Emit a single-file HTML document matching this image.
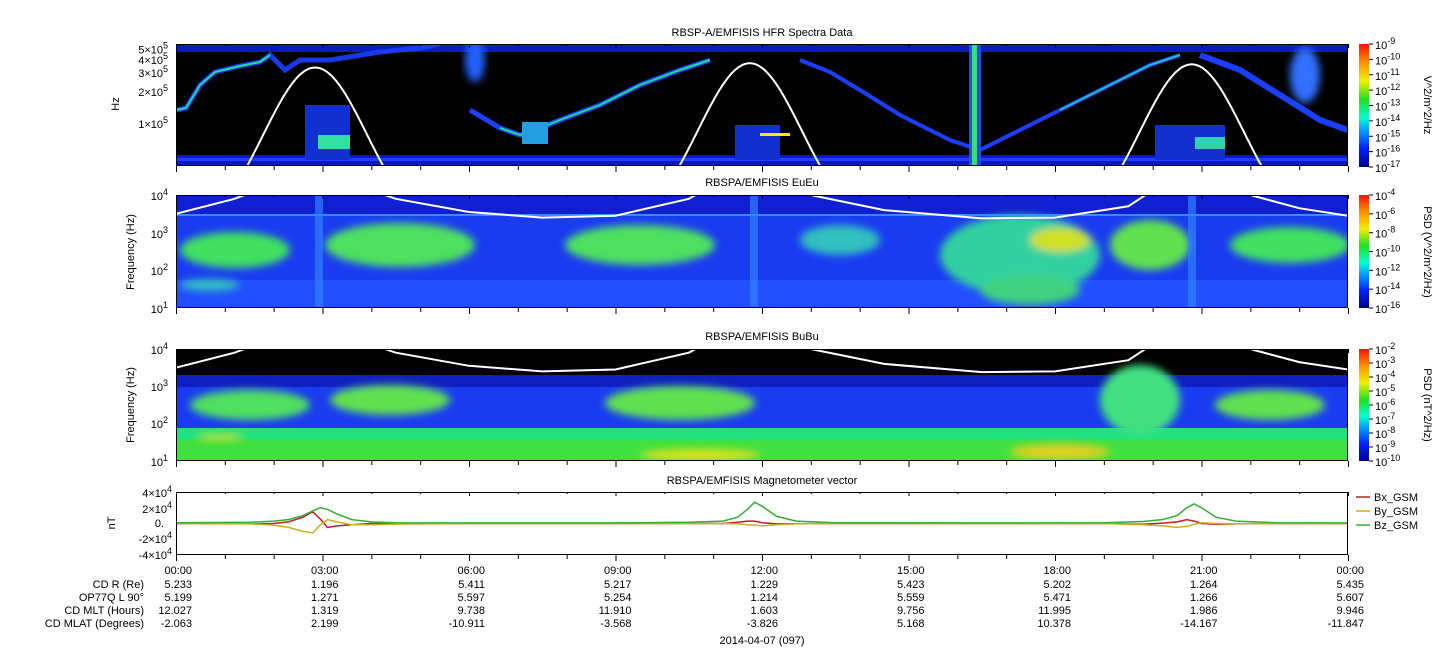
<!DOCTYPE html>
<html><head><meta charset="utf-8"><style>
body{margin:0;background:#fff;}
svg{display:block;font-family:"Liberation Sans",sans-serif;}
text{fill:#000;font-size:11px;}
</style></head><body>
<svg id="chart" width="1447" height="658" viewBox="0 0 1447 658" xmlns="http://www.w3.org/2000/svg">
<defs>
<filter id="b4" x="-20%" y="-20%" width="140%" height="140%"><feGaussianBlur stdDeviation="4"/></filter>
<linearGradient id="rain" x1="0" y1="1" x2="0" y2="0">
<stop offset="0" stop-color="#00008c"/><stop offset="0.15" stop-color="#0020ff"/><stop offset="0.3" stop-color="#00a0ff"/><stop offset="0.4" stop-color="#00ffd0"/><stop offset="0.55" stop-color="#20e020"/><stop offset="0.7" stop-color="#f0f000"/><stop offset="0.85" stop-color="#ff9000"/><stop offset="1" stop-color="#ff1000"/></linearGradient>
<clipPath id="c1"><rect x="176" y="44" width="1172" height="122"/></clipPath>
<clipPath id="c2"><rect x="176" y="195" width="1172" height="113"/></clipPath>
<clipPath id="c3"><rect x="176" y="349" width="1172" height="112"/></clipPath>
<clipPath id="c4"><rect x="176" y="492" width="1172" height="63"/></clipPath>
</defs>

<g clip-path="url(#c1)">
<rect x="176" y="44" width="1172" height="122" fill="#000"/>
<rect x="176" y="44" width="1172" height="8" fill="#0a1cc0"/>
<rect x="176" y="155" width="1172" height="11" fill="#0a1cb0"/>
<rect x="176" y="158" width="1172" height="3" fill="#2040ff"/>
<polyline points="176,110 186,108 200,85 215,72 240,66 260,62 270,55 285,70 300,60 330,60 380,52 420,48 440,44" fill="none" stroke="#1a40ff" stroke-width="5" opacity="0.9"/>
<polyline points="176,110 186,108 200,85 215,72 240,66 260,62 270,55" fill="none" stroke="#20e0a0" stroke-width="2"/>
<polyline points="470,110 500,128 520,135 540,128 560,120 600,105 640,85 680,70 710,60" fill="none" stroke="#1a40ff" stroke-width="5"/>
<polyline points="500,128 520,135 540,128 560,120 600,105 640,85 680,70 710,60" fill="none" stroke="#20e080" stroke-width="2"/>
<polyline points="800,60 830,72 860,90 900,115 950,140 980,150 1020,130 1060,110 1100,90 1150,65 1180,55" fill="none" stroke="#1a40ff" stroke-width="4"/>
<polyline points="1060,110 1100,90 1150,65 1180,55" fill="none" stroke="#20c0c0" stroke-width="2"/>
<polyline points="1200,55 1240,70 1280,95 1320,120 1348,130" fill="none" stroke="#1a40ff" stroke-width="6"/>
<ellipse cx="475" cy="60" rx="10" ry="22" fill="#2060ff" filter="url(#b4)"/>
<ellipse cx="1305" cy="75" rx="15" ry="28" fill="#3070ff" filter="url(#b4)"/>
<rect x="305" y="105" width="45" height="55" fill="#1030d0"/>
<rect x="318" y="135" width="32" height="14" fill="#30e0a0"/>
<rect x="735" y="125" width="45" height="35" fill="#1030d0"/>
<rect x="760" y="133" width="30" height="3" fill="#f0f000"/>
<rect x="1155" y="125" width="70" height="35" fill="#1030d0"/>
<rect x="1195" y="137" width="30" height="12" fill="#30d0b0"/>
<rect x="969" y="44" width="12" height="122" fill="#2050e0"/>
<rect x="972" y="44" width="5" height="122" fill="#30e080"/>
<rect x="522" y="122" width="26" height="22" fill="#20a0e0"/>
</g>
<g id="wh1" clip-path="url(#c1)"></g>

<g clip-path="url(#c2)">
<rect x="176" y="195" width="1172" height="113" fill="#1a3cf0"/>
<rect x="176" y="195" width="1172" height="20" fill="#1020d0"/>
<rect x="176" y="280" width="1172" height="28" fill="#2050ff"/>
<g filter="url(#b4)">
<ellipse cx="235" cy="250" rx="55" ry="18" fill="#40e060"/>
<ellipse cx="400" cy="245" rx="75" ry="22" fill="#50e060"/>
<ellipse cx="640" cy="245" rx="75" ry="20" fill="#50e060"/>
<ellipse cx="840" cy="240" rx="40" ry="15" fill="#30c0c0"/>
<ellipse cx="1020" cy="255" rx="80" ry="40" fill="#30d0a0"/>
<ellipse cx="1060" cy="240" rx="30" ry="12" fill="#d0e020"/>
<ellipse cx="1150" cy="245" rx="40" ry="25" fill="#60e050"/>
<ellipse cx="1290" cy="245" rx="60" ry="18" fill="#40e060"/>
<ellipse cx="210" cy="285" rx="30" ry="6" fill="#30c0c0"/>
<ellipse cx="1030" cy="290" rx="50" ry="15" fill="#40d080"/>
</g>
<rect x="176" y="214" width="1172" height="2" fill="#3090ff"/>
<rect x="315" y="195" width="8" height="113" fill="#3080ff" opacity="0.7"/>
<rect x="750" y="195" width="8" height="113" fill="#3080ff" opacity="0.7"/>
<rect x="1188" y="195" width="8" height="113" fill="#3080ff" opacity="0.7"/>
</g>
<g id="wh2" clip-path="url(#c2)"></g>

<g clip-path="url(#c3)">
<rect x="176" y="349" width="1172" height="112" fill="#1a3cf0"/>
<rect x="176" y="349" width="1172" height="30" fill="#000"/>
<rect x="176" y="375" width="1172" height="12" fill="#1020c0"/>
<rect x="176" y="428" width="1172" height="33" fill="#20e080"/>
<rect x="176" y="440" width="1172" height="21" fill="#40e040"/>
<g filter="url(#b4)">
<ellipse cx="250" cy="405" rx="60" ry="15" fill="#50e060"/>
<ellipse cx="390" cy="400" rx="60" ry="15" fill="#60e050"/>
<ellipse cx="680" cy="403" rx="75" ry="17" fill="#60e050"/>
<ellipse cx="1140" cy="400" rx="40" ry="35" fill="#40e080"/>
<ellipse cx="1270" cy="405" rx="55" ry="15" fill="#60e050"/>
<ellipse cx="700" cy="455" rx="60" ry="6" fill="#e0e020"/>
<ellipse cx="1060" cy="452" rx="50" ry="8" fill="#e0d020"/>
<ellipse cx="220" cy="437" rx="25" ry="3" fill="#e0e020"/>
</g>
</g>
<g id="wh3" clip-path="url(#c3)"></g>

<rect x="176" y="492" width="1172" height="63" fill="#fff"/>
<g id="mag" clip-path="url(#c4)"></g>

<g id="frames" fill="none" stroke="#000" stroke-width="1"></g>
<g id="ticks" stroke="#000" stroke-width="1"></g>

<text x="762" y="36" text-anchor="middle">RBSP-A/EMFISIS  HFR Spectra Data</text>
<text x="762" y="186" text-anchor="middle">RBSPA/EMFISIS  EuEu</text>
<text x="762" y="340" text-anchor="middle">RBSPA/EMFISIS  BuBu</text>
<text x="762" y="484" text-anchor="middle">RBSPA/EMFISIS  Magnetometer vector</text>

<text transform="translate(119,104) rotate(-90)" text-anchor="middle">Hz</text>
<text transform="translate(134,252) rotate(-90)" text-anchor="middle">Frequency (Hz)</text>
<text transform="translate(134,405) rotate(-90)" text-anchor="middle">Frequency (Hz)</text>
<text transform="translate(115,523) rotate(-90)" text-anchor="middle">nT</text>
<g id="ylabels"></g>

<rect x="1359" y="44" width="10" height="123" fill="url(#rain)"/>
<rect x="1359" y="195" width="10" height="113" fill="url(#rain)"/>
<rect x="1359" y="349" width="10" height="112" fill="url(#rain)"/>
<g id="cbl"></g>
<text transform="translate(1424,105) rotate(90)" text-anchor="middle">V^2/m^2/Hz</text>
<text transform="translate(1424,252) rotate(90)" text-anchor="middle">PSD (V^2/m^2/Hz)</text>
<text transform="translate(1424,405) rotate(90)" text-anchor="middle">PSD (nT^2/Hz)</text>

<g>
<line x1="1356" y1="497" x2="1370" y2="497" stroke="#c02020" stroke-width="1.5"/><text x="1374" y="501">Bx_GSM</text>
<line x1="1356" y1="511" x2="1370" y2="511" stroke="#c8b020" stroke-width="1.5"/><text x="1374" y="515">By_GSM</text>
<line x1="1356" y1="525" x2="1370" y2="525" stroke="#30b030" stroke-width="1.5"/><text x="1374" y="529">Bz_GSM</text>
</g>

<g id="ephem"></g>
<text x="762" y="644" text-anchor="middle">2014-04-07 (097)</text>

<script>
const timeLabels=["00:00","03:00","06:00","09:00","12:00","15:00","18:00","21:00","00:00"];
const rowNames=["CD R (Re)","OP77Q L 90°","CD MLT (Hours)","CD MLAT (Degrees)"];
const cdR=["5.233","1.196","5.411","5.217","1.229","5.423","5.202","1.264","5.435"];
const lShell=["5.199","1.271","5.597","5.254","1.214","5.559","5.471","1.266","5.607"];
const mlt=["12.027","1.319","9.738","11.910","1.603","9.756","11.995","1.986","9.946"];
const mlat=["-2.063","2.199","-10.911","-3.568","-3.826","5.168","10.378","-14.167","-11.847"];
const tHours=[0,1.5,2.0,2.3,2.6,2.8,2.95,3.1,3.3,3.6,4.0,4.5,6,9,10.5,11.2,11.5,11.7,11.85,12.0,12.3,12.7,13.5,16,19,19.8,20.2,20.5,20.7,20.85,21.0,21.3,21.7,22.5,24];
const bx=[0,-500,0,2000,8000,15000,6000,-5000,-3000,-1500,0,0,0,0,0,0,1500,3000,3000,1000,-500,-200,0,0,0,-1000,500,2000,5000,3000,0,-1000,-500,0,0];
const by=[0,-300,-2000,-5000,-10000,-12000,-2000,5000,2000,-1500,-1500,-800,0,0,0,0,-500,-1500,-2000,-3000,-1500,-500,0,0,0,-1500,-3000,-5000,-3500,-1000,1000,0,-300,0,0];
const bz=[1000,1500,3000,5000,10000,16000,20000,18000,12000,5000,2000,1000,800,800,1500,3000,8000,18000,27000,22000,9000,3000,1000,800,1000,2500,5000,10000,20000,25000,20000,8000,3000,1000,800];
const pkHours=[2.85,11.75,20.8];
const pkLogF=[5.52,5.56,5.55];
const fceHours=[0,1.2,2.0,2.4,3.2,3.6,4.5,6,7.5,9,10.5,11.2,12.4,13,14.5,16.5,18,19.5,20.2,21.4,22,23,24];
const fceLog=[3.5,3.9,4.3,4.6,4.6,4.3,3.9,3.55,3.4,3.45,3.9,4.4,4.4,4.0,3.6,3.38,3.4,3.7,4.3,4.4,4.0,3.65,3.45];

const NS="http://www.w3.org/2000/svg";
const X0=176,W=1172;
const xs=h=>X0+h/24*W;
function mk(tag,attrs,parent){const e=document.createElementNS(NS,tag);for(const k in attrs)e.setAttribute(k,attrs[k]);parent.appendChild(e);return e;}
function txt(parent,x,y,s,anchor){const e=mk('text',{x:x,y:y,'text-anchor':anchor||'end'},parent);e.textContent=s;return e;}

const y1=lf=>44+(5.74-lf)/(5.74-4.6)*122;
const wh1=document.getElementById('wh1');
pkHours.forEach((h0,i)=>{let p=[];for(let d=-1.8;d<=1.8;d+=0.02){const lf=pkLogF[i]-1.6*(1-Math.exp(-d*d/2.27));p.push(xs(h0+d).toFixed(1)+','+y1(lf).toFixed(1));}
const pl=mk('polyline',{points:p.join(' '),fill:'none',stroke:'#fff','stroke-width':2},wh1);

});
function drawFce(g,top,bot){const y=lf=>top+(4-lf)/3*(bot-top);const p=fceHours.map((h,i)=>xs(h).toFixed(1)+','+y(fceLog[i]).toFixed(1));
const pl=mk('polyline',{points:p.join(' '),fill:'none',stroke:'#fff','stroke-width':2},g);

}
drawFce(document.getElementById('wh2'),195,308);
drawFce(document.getElementById('wh3'),349,461);

const ym=v=>523.5-v/40000*31.5;
const mag=document.getElementById('mag');
[[bx,'#c02020'],[by,'#c8b020'],[bz,'#30b030']].forEach(([arr,c])=>{const pts=tHours.map((h,i)=>xs(h).toFixed(1)+','+ym(arr[i]).toFixed(1)).join(' ');
const pl=mk('polyline',{points:pts,fill:'none',stroke:c,'stroke-width':1.5},mag);

});

const panels=[[44,166],[195,308],[349,461],[492,555]];
const fr=document.getElementById('frames'),tk=document.getElementById('ticks');
panels.forEach(([t,b])=>{mk('rect',{x:X0+0.5,y:t+0.5,width:W-1,height:b-t-1},fr);
for(let h=0;h<=24;h++){const x=xs(h)+0.5;const L=h%3===0?6:4;mk('line',{x1:x,y1:b,x2:x,y2:b+L},tk);mk('line',{x1:x,y1:t,x2:x,y2:t+L-2},tk);}});

const yl=document.getElementById('ylabels');
function sup(parent,x,y,base,exp){const t=mk('text',{x:x,y:y,'text-anchor':'end'},parent);const a=document.createElementNS(NS,'tspan');a.textContent=base;t.appendChild(a);const s=document.createElementNS(NS,'tspan');s.setAttribute('dy','-5');s.setAttribute('font-size','9');s.textContent=exp;t.appendChild(s);return t;}
[["5×10",5.699],["4×10",5.602],["3×10",5.477],["2×10",5.301],["1×10",5.0]].forEach(([b,lf])=>sup(yl,168,y1(lf)+5,b,'5'));
[[195,'4'],[233,'3'],[270,'2'],[308,'1']].forEach(([y,e])=>sup(yl,168,y+5,'10',e));
[[349,'4'],[386,'3'],[423,'2'],[461,'1']].forEach(([y,e])=>sup(yl,168,y+5,'10',e));
sup(yl,172,497,'4×10','4');sup(yl,172,513,'2×10','4');txt(yl,164,527,'0.');sup(yl,172,543,'-2×10','4');sup(yl,172,559,'-4×10','4');

const cb=document.getElementById('cbl');
function cbar(top,bot,exps){exps.forEach((e,i)=>{const y=top+i/(exps.length-1)*(bot-top);mk('line',{x1:1369,y1:y,x2:1373,y2:y,stroke:'#000'},cb);const t=sup(cb,1375,y+5,'10',e);t.setAttribute('text-anchor','start');});}
cbar(44,167,['-9','-10','-11','-12','-13','-14','-15','-16','-17']);
cbar(195,308,['-4','-6','-8','-10','-12','-14','-16']);
cbar(349,461,['-2','-3','-4','-5','-6','-7','-8','-9','-10']);

const ep=document.getElementById('ephem');
const rowsY=[574,588,601,614,627];
rowNames.forEach((n,i)=>{txt(ep,144,rowsY[i+1],n);});
timeLabels.forEach((s,i)=>{const x=xs(i*3)+16;txt(ep,x,rowsY[0],s);txt(ep,x,rowsY[1],cdR[i]);txt(ep,x,rowsY[2],lShell[i]);txt(ep,x,rowsY[3],mlt[i]);txt(ep,x,rowsY[4],mlat[i]);});
</script>
</svg>
</body></html>
